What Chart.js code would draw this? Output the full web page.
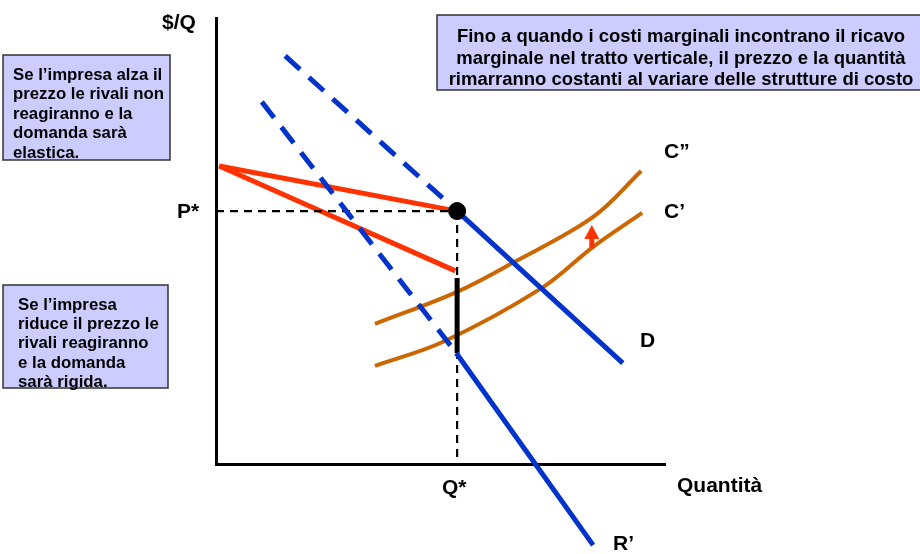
<!DOCTYPE html>
<html>
<head>
<meta charset="utf-8">
<script src="https://cdn.jsdelivr.net/npm/chart.js@4.4.0/dist/chart.umd.min.js"></script>
<style>
  body { margin:0; background:#fff; }
  #wrap { width:920px; height:554px; }
</style>
</head>
<body>
<div id="wrap"><canvas id="kinked" width="920" height="554"></canvas></div>
<script>
  // equilibrium (kink) point
  var qStar = 5.37;
  var pStar = 5.67;

  // demand curve D (upper dashed part + solid part)
  var demandDashed = [[1.54, 9.15], [qStar, pStar]];
  var demandSolid = [[qStar, pStar], [9.06, 2.26]];

  // marginal revenue R' (dashed + solid part)
  var mrDashed = [[1.02, 8.12], [5.35, 2.49]];
  var mrSolid = [[5.35, 2.49], [8.40, -1.82]];

  // elastic branch (red)
  var elasticDemand = [[0.07, 6.68], [qStar, pStar]];
  var elasticMR = [[0.07, 6.68], [5.33, 4.33]];

  // vertical gap of the marginal revenue
  var mrGap = [[qStar, 4.17], [qStar, 2.49]];

  // cost curves
  var costHigh = [[3.54, 3.14], [5.37, 3.86], [6.61, 4.51], [8.40, 5.54], [9.47, 6.57]];
  var costLow = [[3.54, 2.20], [5.06, 2.74], [7.26, 3.95], [8.40, 4.87], [9.49, 5.63]];

  // arrow showing the cost shift
  var arrowX = 8.37;
  var arrowFrom = 4.84;
  var arrowTo = 5.36;

  var blue = "#0033cc";
  var red = "#ff3300";
  var orange = "#cc6600";
  var boxFill = "#ccccff";
  var font = "'Liberation Sans', Arial, sans-serif";

  function pts(arr){
      var out = [];
      for(var i=0;i<arr.length;i++){
          out.push({x: arr[i][0], y: arr[i][1]});
      }
      return out;
  }

  function line(data, color, width, dash){
      return {
          data: pts(data),
          showLine: true,
          borderColor: color,
          borderWidth: width,
          borderDash: dash || [],
          pointRadius: 0,
          clip: false,
          fill: false
      };
  }

  var costHighSet = line(costHigh, orange, 4);
  costHighSet.tension = 0.35;
  var costLowSet = line(costLow, orange, 4);
  costLowSet.tension = 0.35;

  var dotSet = {
      data: [{x: qStar, y: pStar}],
      pointRadius: 8.5,
      pointBackgroundColor: "#000",
      pointBorderColor: "#000",
      showLine: false,
      clip: false
  };

  // first dataset is drawn on top
  var datasets = [
      dotSet,
      line(demandDashed, blue, 5, [20, 12]),
      line(demandSolid, blue, 5),
      line(mrDashed, blue, 5, [20, 12]),
      line(mrSolid, blue, 5),
      line(mrGap, "#000", 5),
      line([[0, pStar], [qStar, pStar]], "#000", 2.2, [8, 6]),
      line([[qStar, pStar], [qStar, 0]], "#000", 2.2, [8, 6]),
      line(elasticDemand, red, 5),
      line(elasticMR, red, 5),
      costHighSet,
      costLowSet
  ];

  function drawBox(ctx, x, y, w, h){
      ctx.save();
      ctx.fillStyle = boxFill;
      ctx.fillRect(x, y, w, h);
      ctx.strokeStyle = "#333";
      ctx.lineWidth = 1.5;
      ctx.strokeRect(x, y, w, h);
      ctx.restore();
  }

  function drawLines(ctx, lines, x, y, step, align){
      ctx.textAlign = align;
      for(var i=0;i<lines.length;i++){
          ctx.fillText(lines[i], x, y + i*step);
      }
  }

  var labelsPlugin = {
      id: 'labels',
      afterDraw: function(chart){
          var ctx = chart.ctx;
          var sx = chart.scales.x, sy = chart.scales.y;
          ctx.save();

          // arrow
          var ax = sx.getPixelForValue(arrowX);
          var a0 = sy.getPixelForValue(arrowFrom);
          var a1 = sy.getPixelForValue(arrowTo);
          ctx.fillStyle = red;
          ctx.fillRect(ax - 2.5, a1 + 12, 5, a0 - a1 - 12);
          ctx.beginPath();
          ctx.moveTo(ax, a1);
          ctx.lineTo(ax - 7.5, a1 + 14);
          ctx.lineTo(ax + 7.5, a1 + 14);
          ctx.closePath();
          ctx.fill();

          // text boxes
          drawBox(ctx, 3, 55, 167, 105);
          drawBox(ctx, 3, 285, 165, 103);
          drawBox(ctx, 437, 15, 490, 75);

          ctx.fillStyle = "#000";
          ctx.textBaseline = "middle";
          ctx.font = "bold 16.8px " + font;
          drawLines(ctx, ["Se l\u2019impresa alza il", "prezzo le rivali non", "reagiranno e la", "domanda sar\u00e0", "elastica."], 13, 75, 19.5, "left");
          drawLines(ctx, ["Se l\u2019impresa", "riduce il prezzo le", "rivali reagiranno", "e la domanda", "sar\u00e0 rigida."], 18, 305, 19.3, "left");
          ctx.font = "bold 18.5px " + font;
          drawLines(ctx, ["Fino a quando i costi marginali incontrano il ricavo", "marginale nel tratto verticale, il prezzo e la quantit\u00e0", "rimarranno costanti al variare delle strutture di costo"], 681, 37, 21.5, "center");

          // axis and curve labels
          ctx.font = "bold 21px " + font;
          ctx.textAlign = "left";
          ctx.fillText("$/Q", 162, 23);
          ctx.fillText("P*", 177, 212);
          ctx.fillText("Q*", 442, 488);
          ctx.fillText("Quantit\u00e0", 677, 486);
          ctx.fillText("R\u2019", 613, 544);
          ctx.fillText("D", 640, 341);
          ctx.fillText("C\u201d", 664, 152);
          ctx.fillText("C\u2019", 664, 212);
          ctx.restore();
      }
  };

  var ctx = document.getElementById('kinked');
  var chart = new Chart(ctx, {
      type: 'scatter',
      data: { datasets: datasets },
      options: {
          responsive: false,
          animation: false,
          devicePixelRatio: 1,
          layout: { padding: { left: 216, top: 18, right: 255, bottom: 90 } },
          plugins: { legend: { display: false }, tooltip: { enabled: false } },
          scales: {
              x: {
                  type: 'linear', min: 0, max: 10,
                  grid: { display: false, drawTicks: false },
                  border: { display: true, color: "#000", width: 3 },
                  ticks: { display: false }
              },
              y: {
                  type: 'linear', min: 0, max: 10,
                  grid: { display: false, drawTicks: false },
                  border: { display: true, color: "#000", width: 3 },
                  ticks: { display: false }
              }
          }
      },
      plugins: [labelsPlugin]
  });
</script>
</body>
</html>
